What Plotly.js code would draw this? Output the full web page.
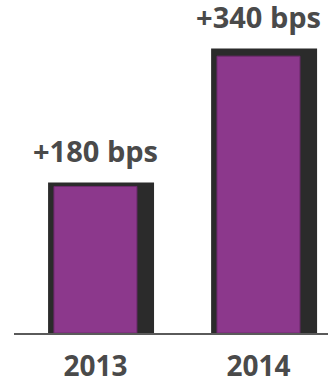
<!DOCTYPE html>
<html><head><meta charset="utf-8">
<script src="https://cdn.plot.ly/plotly-3.0.1.min.js"></script>
<style>html,body{margin:0;padding:0;background:#fff}#c{width:328px;height:380px}</style>
</head><body><div id="c"></div>
<script>
const years = ["2013", "2014"];
const bps = [180, 340];
const labels = ["+180 bps", "+340 bps"];

const textColor = "#4a4a4a";
const family = "Open Sans, Noto Sans, sans-serif";

const shadow = {
  type: "bar", x: years, y: bps, width: 0.65, offset: -0.291,
  marker: {color: "#2b2b2b", line: {width: 0}}, hoverinfo: "skip", showlegend: false
};
const fill = {
  type: "bar", x: years, y: bps, width: 0.509, offset: -0.255, yaxis: "y2",
  marker: {color: "#8c388c", line: {color: "#6e2a6e", width: 1}}, hoverinfo: "skip", showlegend: false
};
const valueText = {
  type: "scatter", mode: "markers+text", x: years, y: bps, text: labels,
  textposition: "top center", cliponaxis: false,
  marker: {size: 20, opacity: 0, color: "#fff"},
  textfont: {family: family, size: 29, color: textColor, weight: 700},
  hoverinfo: "skip", showlegend: false
};

const layout = {
  width: 328, height: 380,
  margin: {l: 14, r: 0, t: 0, b: 47, pad: 0},
  paper_bgcolor: "#fff", plot_bgcolor: "#fff",
  barmode: "overlay",
  xaxis: {type: "category", range: [-0.5, 1.426], showline: true, linecolor: "#5a5a5a", linewidth: 2,
          ticks: "", showgrid: false, zeroline: false, ticklabelstandoff: 7,
          tickfont: {family: family, size: 28, color: textColor, weight: 700}},
  yaxis: {range: [0, 398], showticklabels: false, showline: false, ticks: "", showgrid: false, zeroline: false},
  yaxis2: {range: [0, 409], overlaying: "y", showticklabels: false, showline: false, ticks: "", showgrid: false, zeroline: false},
  showlegend: false
};
Plotly.newPlot("c", [shadow, fill, valueText], layout, {displayModeBar: false});
</script></body></html>
